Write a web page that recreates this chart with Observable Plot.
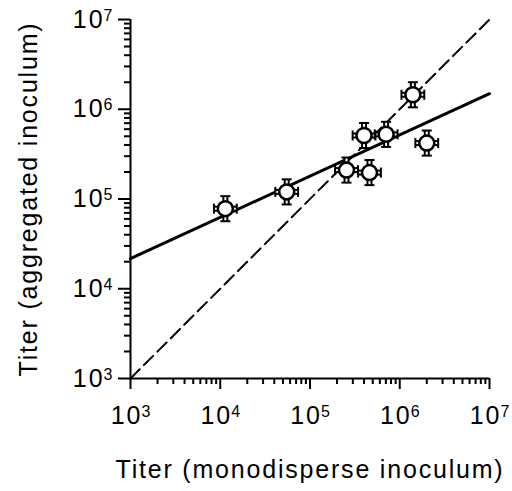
<!DOCTYPE html>
<html><head><meta charset="utf-8">
<script src="https://cdn.jsdelivr.net/npm/d3@7"></script>
<script src="https://cdn.jsdelivr.net/npm/@observablehq/plot@0.6"></script>
<style>body{margin:0;background:#fff}</style>
</head><body><div id="chart"></div>
<script>
// ---- data ----
const tickExponents = [3, 4, 5, 6, 7];
const minorMultipliers = [2, 3, 4, 5, 6, 7, 8, 9];
const monodisperse = [1.14e4, 5.5e4, 2.55e5, 4.6e5, 4.0e5, 7.05e5, 1.4e6, 2.0e6];
const aggregated   = [7.8e4, 1.2e5, 2.1e5, 1.97e5, 5.1e5, 5.25e5, 1.45e6, 4.2e5];
const errX = [1.34, 1.34, 1.34, 1.34, 1.34, 1.34, 1.34, 1.34];
const errY = [1.38, 1.38, 1.38, 1.38, 1.38, 1.38, 1.38, 1.38];
const fitX = [1e3, 1e7];
const fitY = [2.17e4, 1.49e6];
const identityX = [1e3, 1e7];
const identityY = [1e3, 1e7];
const xTitle = "Titer (monodisperse inoculum)";
const yTitle = "Titer (aggregated inoculum)";

const majorTicks = tickExponents.map(e => 10 ** e);
const minorTicks = tickExponents.slice(0, -1).flatMap(e => minorMultipliers.map(m => m * 10 ** e));
const points = monodisperse.map((x, i) => ({x, y: aggregated[i], fx: errX[i], fy: errY[i]}));
const fit = fitX.map((x, i) => ({x, y: fitY[i]}));
const identity = identityX.map((x, i) => ({x, y: identityY[i]}));

const hline = {draw(ctx, size) {const r = Math.sqrt(size / Math.PI); ctx.moveTo(-r, 0); ctx.lineTo(r, 0);}};
const vline = {draw(ctx, size) {const r = Math.sqrt(size / Math.PI); ctx.moveTo(0, -r); ctx.lineTo(0, r);}};
const expFormat = d => String(Math.round(Math.log10(d)));

const plot = Plot.plot({
  width: 512, height: 491,
  marginLeft: 130, marginRight: 23, marginTop: 19, marginBottom: 113,
  style: {fontFamily: "'Liberation Sans', Arial, sans-serif", fontSize: "25px", background: "white", overflow: "visible"},
  x: {type: "log", domain: [1e3, 1e7]},
  y: {type: "log", domain: [1e3, 1e7]},
  marks: [
    Plot.line(identity, {x: "x", y: "y", stroke: "black", strokeWidth: 2, strokeDasharray: "13,6"}),
    Plot.line(fit, {x: "x", y: "y", stroke: "black", strokeWidth: 3}),
    // hollow error bars
    Plot.link(points, {x1: "x", x2: "x", y1: d => d.y / d.fy, y2: d => d.y * d.fy, stroke: "black", strokeWidth: 6}),
    Plot.link(points, {y1: "y", y2: "y", x1: d => d.x / d.fx, x2: d => d.x * d.fx, stroke: "black", strokeWidth: 6}),
    Plot.link(points, {x1: "x", x2: "x", y1: d => d.y / d.fy, y2: d => d.y * d.fy, stroke: "white", strokeWidth: 2}),
    Plot.link(points, {y1: "y", y2: "y", x1: d => d.x / d.fx, x2: d => d.x * d.fx, stroke: "white", strokeWidth: 2}),
    // caps
    Plot.dot(points, {x: "x", y: d => d.y * d.fy, symbol: hline, r: 5, stroke: "black", strokeWidth: 2, fill: "none"}),
    Plot.dot(points, {x: "x", y: d => d.y / d.fy, symbol: hline, r: 5, stroke: "black", strokeWidth: 2, fill: "none"}),
    Plot.dot(points, {x: d => d.x * d.fx, y: "y", symbol: vline, r: 5, stroke: "black", strokeWidth: 2, fill: "none"}),
    Plot.dot(points, {x: d => d.x / d.fx, y: "y", symbol: vline, r: 5, stroke: "black", strokeWidth: 2, fill: "none"}),
    Plot.dot(points, {x: "x", y: "y", r: 7.5, fill: "white", stroke: "black", strokeWidth: 2.5}),
    // axes
    Plot.axisX(minorTicks, {tickSize: 6, strokeWidth: 2, fill: "none", label: null}),
    Plot.axisY(minorTicks, {tickSize: 6, strokeWidth: 2, fill: "none", label: null}),
    Plot.axisX(majorTicks, {tickSize: 11, tickPadding: 17, strokeWidth: 2, tickFormat: expFormat, label: null}),
    Plot.axisY(majorTicks, {tickSize: 12, tickPadding: 6, strokeWidth: 2, tickFormat: expFormat, label: null}),
    Plot.ruleX([1e3], {stroke: "black", strokeWidth: 2}),
    Plot.ruleY([1e3], {stroke: "black", strokeWidth: 2}),
    Plot.text([xTitle], {frameAnchor: "bottom", dy: 91, text: d => d, fontSize: 25, lineAnchor: "middle", textAnchor: "middle"}),
    Plot.text([yTitle], {frameAnchor: "left", dx: -102, rotate: -90, text: d => d, fontSize: 25, lineAnchor: "middle", textAnchor: "middle"})
  ]
});

const svg = d3.select(plot);
svg.selectAll('g[aria-label$="tick label"] text').each(function () {
  const t = d3.select(this);
  const e = t.text();
  if (!e) return;
  t.text(null);
  t.append("tspan").attr("letter-spacing", "2px").text("10");
  t.append("tspan").attr("dx", -1).attr("dy", -7).attr("font-size", 16).text(e);
});
svg.selectAll('g[aria-label="text"] text').attr("letter-spacing", "1.8px");
document.getElementById("chart").appendChild(plot);
</script>
</body></html>
